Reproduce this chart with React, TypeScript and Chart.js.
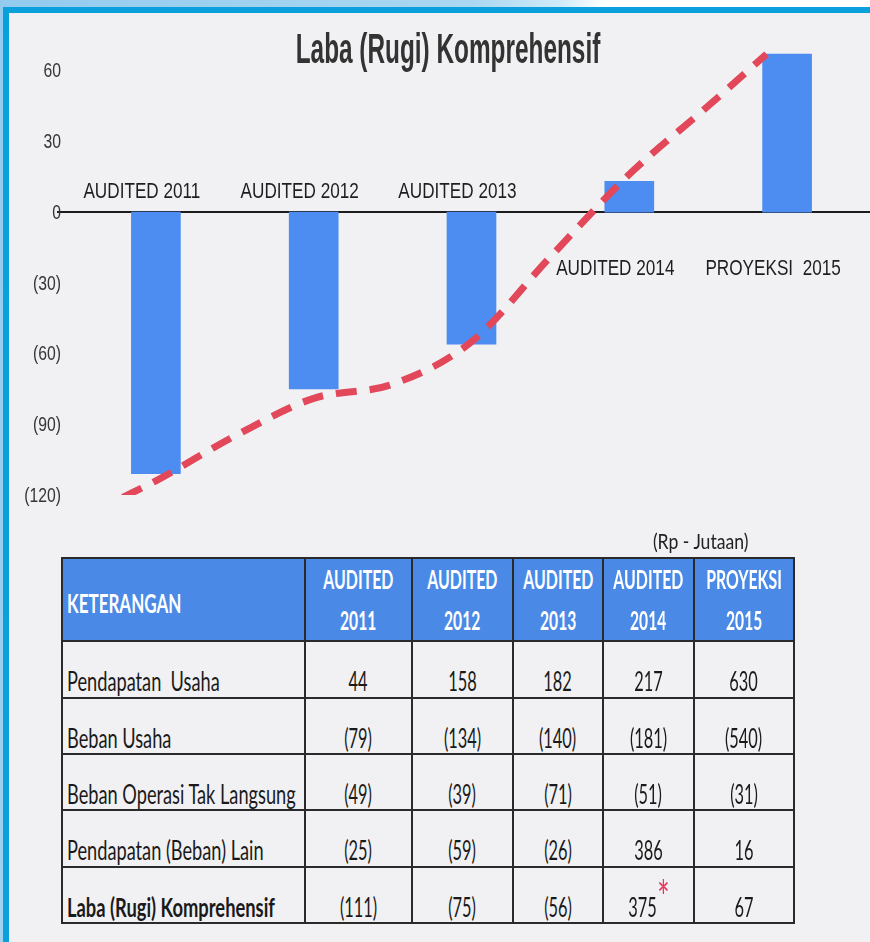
import React, { useEffect, useRef } from 'react';
import { Chart, registerables } from 'chart.js';

Chart.register(...registerables);

// ---------- data ----------
const chartTitle = 'Laba (Rugi) Komprehensif';
const categories = ['AUDITED 2011', 'AUDITED 2012', 'AUDITED 2013', 'AUDITED 2014', 'PROYEKSI  2015'];
const labaValues = [-111, -75, -56, 13, 67];
const trendIndex = [-0.21, 0, 0.5, 1, 1.5, 2, 2.5, 3, 3.5, 3.87];
const trendValues = [-121, -114, -95, -79, -73, -55, -19, 16, 45, 67];
const yTicks = [60, 30, 0, -30, -60, -90, -120];

const unitNote = '(Rp - Jutaan)';
const headerFirst = 'KETERANGAN';
const headerTop = ['AUDITED', 'AUDITED', 'AUDITED', 'AUDITED', 'PROYEKSI'];
const headerYears = ['2011', '2012', '2013', '2014', '2015'];
const rowLabels = [
  'Pendapatan  Usaha',
  'Beban Usaha',
  'Beban Operasi Tak Langsung',
  'Pendapatan (Beban) Lain',
  'Laba (Rugi) Komprehensif',
];
const pendapatanUsaha = ['44', '158', '182', '217', '630'];
const bebanUsaha = ['(79)', '(134)', '(140)', '(181)', '(540)'];
const bebanOperasi = ['(49)', '(39)', '(71)', '(51)', '(31)'];
const pendapatanLain = ['(25)', '(59)', '(26)', '386', '16'];
const labaKomprehensif = ['(111)', '(75)', '(56)', '375', '67'];
const tableRows = [pendapatanUsaha, bebanUsaha, bebanOperasi, pendapatanLain, labaKomprehensif];
const markedCell = { row: 4, col: 3 };

// ---------- styles ----------
const SANS = "'Liberation Sans', Arial, sans-serif";
const TABLE_FONT = "Lato, 'Open Sans', sans-serif";
const BAR_BLUE = '#4d8cf0';
const HEAD_BLUE = '#4a8ae6';
const PAPER = '#f1f1f3';
const LINE_DARK = '#2a2a2a';

const fmtTick = (v: number) => (v < 0 ? `(${-v})` : `${v}`);

function squeezedText(ctx: any, text: string, x: number, y: number, sx: number) {
  ctx.save();
  ctx.translate(x, y);
  ctx.scale(sx, 1);
  ctx.fillText(text, 0, 0);
  ctx.restore();
}

const overlayPlugin = {
  id: 'overlay',
  beforeDatasetsDraw(chart: any) {
    const { ctx, chartArea, scales } = chart;
    const y0 = scales.y.getPixelForValue(0);
    ctx.save();
    ctx.strokeStyle = '#1c1c1c';
    ctx.lineWidth = 2;
    ctx.beginPath();
    ctx.moveTo(chartArea.left - 20, y0);
    ctx.lineTo(chart.width, y0);
    ctx.stroke();
    ctx.restore();
  },
  afterDraw(chart: any) {
    const { ctx, scales, chartArea } = chart;
    const x = scales.x;
    const y = scales.y;
    const y0 = y.getPixelForValue(0);

    // y tick labels
    ctx.save();
    ctx.font = `21px ${SANS}`;
    ctx.fillStyle = '#363636';
    ctx.textAlign = 'right';
    ctx.textBaseline = 'middle';
    yTicks.forEach((v) => {
      squeezedText(ctx, fmtTick(v), chartArea.left - 16, y.getPixelForValue(v) + 1, 0.75);
    });
    ctx.restore();

    // category labels
    ctx.save();
    ctx.font = `22px ${SANS}`;
    ctx.fillStyle = '#1e1e1e';
    ctx.textAlign = 'center';
    ctx.textBaseline = 'alphabetic';
    categories.forEach((c, i) => {
      const px = x.getPixelForValue(i) - 14;
      const py = labaValues[i] < 0 ? y0 - 14 : y0 + 63;
      squeezedText(ctx, c, px, py, 0.78);
    });
    ctx.restore();

    // title
    ctx.save();
    ctx.font = `bold 42px ${SANS}`;
    ctx.fillStyle = '#333';
    ctx.textAlign = 'center';
    ctx.textBaseline = 'alphabetic';
    squeezedText(ctx, chartTitle, chart.width / 2 + 13, 63, 0.58);
    ctx.restore();
  },
};

function Sq({ children, s = 0.74, origin = 'center', style = {} }: any) {
  return (
    <span
      style={{
        display: 'inline-block',
        flex: 'none',
        transform: `scaleX(${s})`,
        transformOrigin: origin,
        whiteSpace: 'pre',
        ...style,
      }}
    >
      {children}
    </span>
  );
}

function ChartCanvas() {
  const ref = useRef<HTMLCanvasElement | null>(null);
  useEffect(() => {
    if (!ref.current) return;
    const chart = new Chart(ref.current, {
      type: 'bar',
      data: {
        labels: categories,
        datasets: [
          {
            type: 'line',
            data: trendIndex.map((v, i) => ({ x: v, y: trendValues[i] })),
            xAxisID: 'x2',
            yAxisID: 'y',
            borderColor: '#e2475a',
            borderWidth: 7,
            borderDash: [21, 13],
            borderCapStyle: 'butt',
            pointRadius: 0,
            cubicInterpolationMode: 'monotone',
            fill: false,
            order: 0,
          } as any,
          {
            type: 'bar',
            data: labaValues,
            xAxisID: 'x',
            yAxisID: 'y',
            backgroundColor: BAR_BLUE,
            barThickness: 49,
            grouped: false,
            order: 1,
          } as any,
        ],
      },
      options: {
        animation: false,
        responsive: false,
        maintainAspectRatio: false,
        layout: { padding: { top: 47, right: 4, bottom: 35, left: 0 } },
        plugins: {
          legend: { display: false },
          tooltip: { enabled: false },
          title: { display: false },
        },
        scales: {
          x: { type: 'category', display: false, offset: true },
          x2: { type: 'linear', display: false, offset: false, min: -0.5, max: 4.5, grace: 0 },
          y: {
            min: -120,
            max: 70,
            grid: { display: false, drawTicks: false },
            border: { display: false },
            afterBuildTicks: (s: any) => {
              s.ticks = yTicks.map((v) => ({ value: v }));
            },
            afterFit: (s: any) => {
              s.width = 77;
            },
            ticks: { display: false },
          },
        },
      } as any,
      plugins: [overlayPlugin],
    });
    return () => chart.destroy();
  }, []);
  return (
    <canvas
      ref={ref}
      width={870}
      height={530}
      style={{ position: 'absolute', left: 0, top: 0, width: 870, height: 530 }}
    />
  );
}

const colWidths = [241, 105, 99, 88, 89, 98];
const rowHeights = [81, 55, 54, 54, 55, 54];

function DataTable() {
  const cellBase: any = {
    background: PAPER,
    display: 'flex',
    alignItems: 'center',
    overflow: 'visible',
    color: '#1a1a1a',
    fontFamily: TABLE_FONT,
    minWidth: 0,
  };
  const lineBox: any = {
    height: 41,
    lineHeight: '41px',
    width: '100%',
    display: 'flex',
    justifyContent: 'center',
  };
  const cells: any[] = [];
  cells.push(
    <div
      key="h0"
      style={{
        ...cellBase,
        background: HEAD_BLUE,
        color: '#fff',
        fontWeight: 700,
        fontSize: 27,
        paddingLeft: 4,
        paddingTop: 6,
        justifyContent: 'flex-start',
      }}
    >
      <Sq s={0.63} origin="left">{headerFirst}</Sq>
    </div>
  );
  headerTop.forEach((t, i) => {
    cells.push(
      <div
        key={'h' + (i + 1)}
        style={{
          ...cellBase,
          background: HEAD_BLUE,
          color: '#fff',
          fontWeight: 700,
          fontSize: 26,
          flexDirection: 'column',
          justifyContent: 'center',
          paddingTop: 1,
        }}
      >
        <div style={lineBox}>
          <Sq s={0.61}>{t}</Sq>
        </div>
        <div style={lineBox}>
          <Sq s={0.6}>{headerYears[i]}</Sq>
        </div>
      </div>
    );
  });
  rowLabels.forEach((label, r) => {
    const bold = r === rowLabels.length - 1;
    cells.push(
      <div
        key={'l' + r}
        style={{
          ...cellBase,
          fontSize: 26,
          fontWeight: bold ? 700 : 400,
          paddingLeft: 4,
          paddingTop: 23,
          justifyContent: 'flex-start',
        }}
      >
        <Sq s={bold ? 0.705 : 0.7} origin="left">{label}</Sq>
      </div>
    );
    tableRows[r].forEach((v, c) => {
      const marked = r === markedCell.row && c === markedCell.col;
      cells.push(
        <div
          key={'c' + r + '-' + c}
          style={{ ...cellBase, fontSize: 26, paddingTop: 23, justifyContent: 'center' }}
        >
          <Sq s={0.63}>
            {v}
            {marked ? (
              <span style={{ color: '#e8365d', fontSize: 46, position: 'relative', top: -3, lineHeight: '10px', marginLeft: 1 }}>*</span>
            ) : null}
          </Sq>
        </div>
      );
    });
  });
  return (
    <div
      style={{
        position: 'absolute',
        left: 61,
        top: 557,
        padding: 2,
        background: LINE_DARK,
        display: 'grid',
        gridTemplateColumns: colWidths.map((w) => w + 'px').join(' '),
        gridTemplateRows: rowHeights.map((h) => h + 'px').join(' '),
        gap: 2,
      }}
    >
      {cells}
    </div>
  );
}

export default function App() {
  return (
    <div
      style={{
        position: 'absolute',
        left: 0,
        top: 0,
        width: 870,
        height: 942,
        overflow: 'hidden',
        background: 'linear-gradient(105deg, #93cbee 0%, #aad7f1 42%, #cfeaf8 50%, #ffffff 54%)',
      }}
    >
      <div
        style={{
          position: 'absolute',
          left: 3,
          top: 7,
          right: 0,
          bottom: 0,
          borderLeft: '6px solid #0aa0dc',
          borderTop: '6px solid #0aa0dc',
          background: PAPER,
        }}
      />
      <ChartCanvas />
      <div
        style={{
          position: 'absolute',
          right: 870 - 748,
          top: 526,
          fontFamily: TABLE_FONT,
          fontSize: 22,
          color: '#222',
          lineHeight: '30px',
        }}
      >
        <Sq s={0.8} origin="right">{unitNote}</Sq>
      </div>
      <DataTable />
    </div>
  );
}
